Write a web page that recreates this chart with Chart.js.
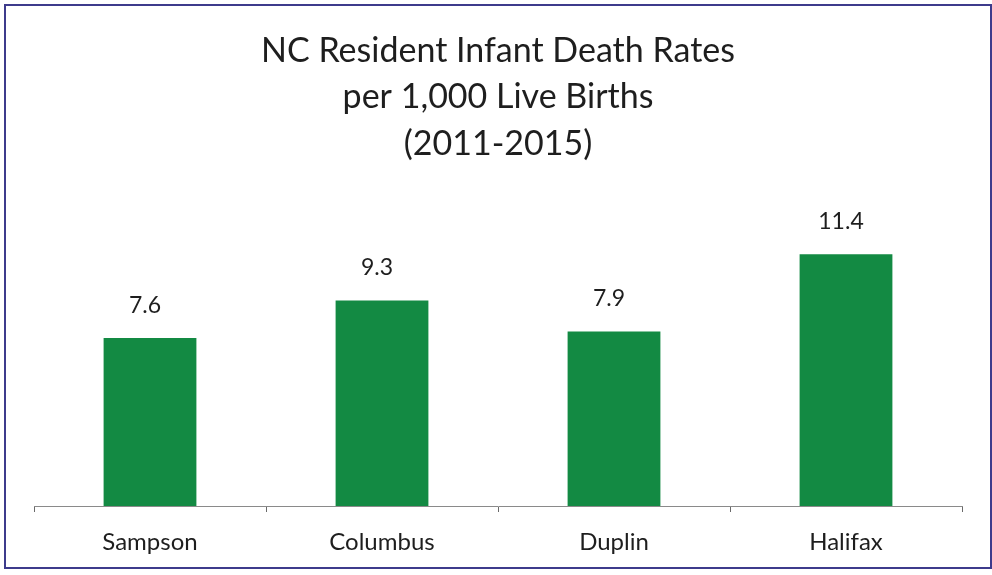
<!DOCTYPE html>
<html>
<head>
<meta charset="utf-8">
<script src="https://cdn.jsdelivr.net/npm/chart.js@4/dist/chart.umd.min.js"></script>
<style>
  html, body { margin: 0; padding: 0; background: #fff; }
  #frame {
    position: absolute; left: 4px; top: 4px;
    width: 984px; height: 561px;
    border: 2px solid #3d3b8c;
    background: #fff;
  }
  #chart { display: block; }
</style>
</head>
<body>
<div id="frame"><canvas id="chart" width="984" height="561"></canvas></div>
<script>
// ── Data ──────────────────────────────────────────────────────────────────────
const counties = ['Sampson', 'Columbus', 'Duplin', 'Halifax'];
const rates    = [7.6, 9.3, 7.9, 11.4];
const titleLines = ['NC Resident Infant Death Rates', 'per 1,000 Live Births', '(2011-2015)'];

const BAR_GREEN = '#138a43';
const TEXT      = '#1e1e1e';
const FONT      = 'Lato, "Open Sans", sans-serif';

// ── Value labels above bars ──────────────────────────────────────────────────
const valueLabels = {
  id: 'valueLabels',
  afterDatasetsDraw(chart) {
    const { ctx } = chart;
    const meta = chart.getDatasetMeta(0);
    ctx.save();
    ctx.fillStyle = TEXT;
    ctx.font = '23px ' + FONT;
    ctx.textAlign = 'center';
    ctx.textBaseline = 'middle';
    meta.data.forEach((bar, i) => {
      ctx.fillText(rates[i].toFixed(1), bar.x - 5, bar.y - 33);
    });
    ctx.restore();
  }
};

new Chart(document.getElementById('chart'), {
  type: 'bar',
  data: {
    labels: counties,
    datasets: [{
      data: rates,
      backgroundColor: BAR_GREEN,
      borderWidth: 0,
      categoryPercentage: 1,
      barPercentage: 0.4,
    }]
  },
  options: {
    responsive: false,
    animation: false,
    layout: { padding: { left: 28, right: 28, top: 0, bottom: 0 } },
    plugins: {
      legend: { display: false },
      tooltip: { enabled: false },
      title: {
        display: true,
        text: titleLines,
        color: TEXT,
        font: { family: FONT, size: 34, weight: 'normal', lineHeight: 1.36 },
        padding: { top: 22, bottom: 30 },
      },
    },
    scales: {
      y: { display: false, min: 0, max: 14 },
      x: {
        afterFit(scale) { scale.height = 61; },
        border: { display: true, color: '#8a8a8a', width: 1 },
        grid: { display: true, drawOnChartArea: false, drawTicks: true, tickLength: 6, color: '#6a6a6a', offset: true },
        ticks: { color: TEXT, padding: 16, font: { family: FONT, size: 24 } },
      }
    }
  },
  plugins: [valueLabels]
});
</script>
</body>
</html>
